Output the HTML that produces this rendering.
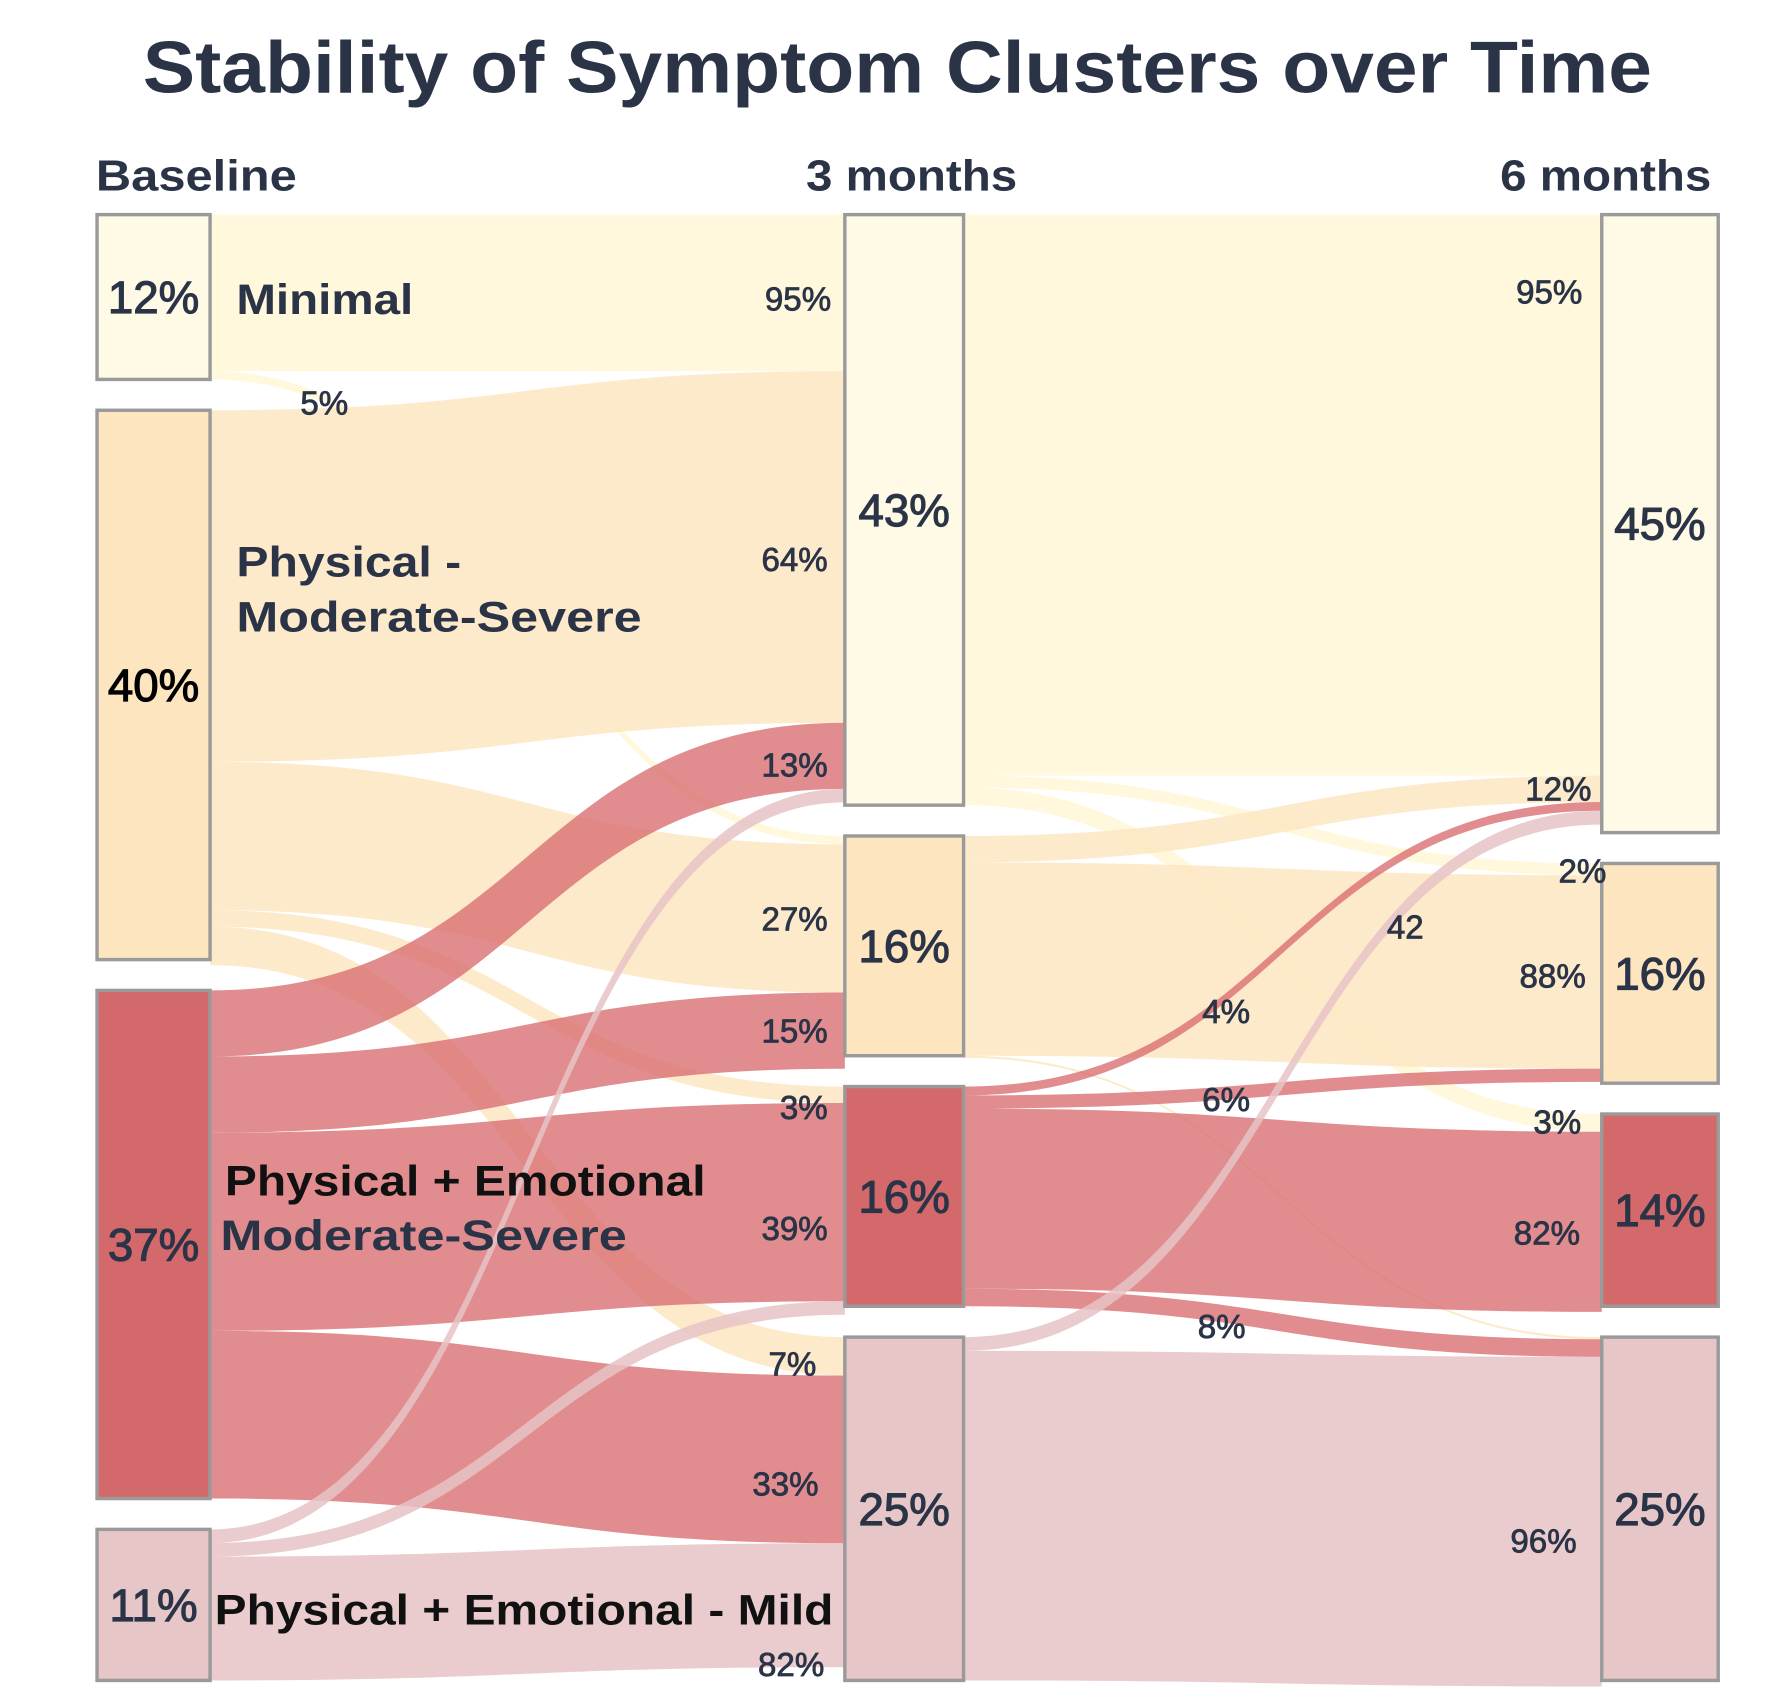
<!DOCTYPE html>
<html><head><meta charset="utf-8"><style>
html,body{margin:0;padding:0;background:#fff;}
svg{display:block;font-family:"Liberation Sans",sans-serif;}
</style></head><body>
<svg id="chart" width="1781" height="1701" viewBox="0 0 1560 1490" preserveAspectRatio="none" xmlns="http://www.w3.org/2000/svg">
<text x="125" y="81" textLength="1322" lengthAdjust="spacingAndGlyphs" font-size="64" font-weight="bold" fill="#2b3447">Stability of Symptom Clusters over Time</text>
<text x="84" y="167" textLength="176" lengthAdjust="spacingAndGlyphs" font-size="38" font-weight="bold" fill="#2b3447">Baseline</text>
<text x="706" y="167" textLength="185" lengthAdjust="spacingAndGlyphs" font-size="38" font-weight="bold" fill="#2b3447">3 months</text>
<text x="1314" y="167" textLength="185" lengthAdjust="spacingAndGlyphs" font-size="38" font-weight="bold" fill="#2b3447">6 months</text>
<g id="flows"></g>
<g id="nodes"></g>
<g id="labels"></g>
</svg>
<script>
const categories = ["Minimal","Physical - Moderate-Severe","Physical + Emotional Moderate-Severe","Physical + Emotional - Mild"];
const baselineValues = [12, 40, 37, 11];
const month3Values = [43, 16, 16, 25];
const month6Values = [45, 16, 14, 25];
// transitions [source, target, percent of source]
const flows1 = [[0,0,95],[0,1,5],[1,0,64],[1,1,27],[1,2,3],[1,3,7],[2,0,13],[2,1,15],[2,2,39],[2,3,33],[3,0,9],[3,2,9],[3,3,82]];
const flows2 = [[0,0,95],[0,1,2],[0,2,3],[1,0,12],[1,1,88],[1,3,1],[2,0,4],[2,1,6],[2,2,82],[2,3,8],[3,0,4],[3,3,96]];
const flowLabels1 = ["95%","5%","64%","27%","3%","7%","13%","15%","39%","33%","","","82%"];
const flowLabels2 = ["95%","2%","3%","12%","88%","","4%","6%","82%","8%","42","96%"];

const nodeFill = ["#fffae6","#fde5bf","#d4696b","#e7c6c8"];
const flowFill = ["#fff7d6","#fde6c2","#d96f72","#e6c3c6"];
const flowOp = [0.85,0.85,0.8,0.85];
const colX = [85, 740, 1403], nodeW = [99,104,102];
const top0 = 188, bottom0 = 1472, gap = 27;
const k = (bottom0 - top0 - 3*gap) / 100;
function yScale(v){ return v * k; }
function layout(vals){ let y = top0; return vals.map(v => { const n = {y0:y, y1:y+yScale(v)}; y = n.y1 + gap; return n; }); }
const cols = [layout(baselineValues), layout(month3Values), layout(month6Values)];
const NS = "http://www.w3.org/2000/svg";
const fg = document.getElementById('flows'), ng = document.getElementById('nodes'), lg = document.getElementById('labels');
function mk(tag, attrs, parent){ const e = document.createElementNS(NS, tag); for (const a in attrs) e.setAttribute(a, attrs[a]); parent.appendChild(e); return e; }

const labelPos1 = [[728,262],[305,353],[725,490],[725,805],[725,970],[715,1195],[725,670],[725,903],[725,1076],[717,1300],null,null,[722,1458]];
const labelPos2 = [[1386,256],[1407,763],[1385,983],[1394,691],[1389,855],null,[1095,886],[1095,963],[1384,1080],[1091,1162],[1247,812],[1381,1350]];

function drawFlows(stage, flows, srcVals, labels, lpos){
  const src = cols[stage], tgt = cols[stage+1];
  const x0 = colX[stage] + nodeW[stage], x1 = colX[stage+1];
  const sOff = src.map(n => n.y0), tOff = tgt.map(n => n.y0);
  const geo = [];
  flows.forEach((f,i) => { const w = yScale(srcVals[f[0]] * f[2] / 100);
    geo[i] = {sy: sOff[f[0]], w}; sOff[f[0]] += w; });
  flows.map((f,i)=>i).sort((a,b)=> flows[a][0]-flows[b][0]).forEach(i => { const f = flows[i];
    geo[i].ty = tOff[f[1]]; tOff[f[1]] += geo[i].w; });
  flows.forEach((f,i) => {
    const g = geo[i], xm = (x0 + x1) / 2;
    const d = `M${x0},${g.sy} C${xm},${g.sy} ${xm},${g.ty} ${x1},${g.ty} L${x1},${g.ty+g.w} C${xm},${g.ty+g.w} ${xm},${g.sy+g.w} ${x0},${g.sy+g.w} Z`;
    const p = mk('path', {d, fill: flowFill[f[0]], 'fill-opacity': flowOp[f[0]]}, fg);
    
    
    if (labels[i] && lpos[i]) {
      const t = mk('text', {x: lpos[i][0], y: lpos[i][1]+10, 'text-anchor':'end', 'font-size':29, fill:'#2b3447', stroke:'#2b3447', 'stroke-width':0.7}, lg);
      t.textContent = labels[i];
      
      
    }
  });
}
drawFlows(0, flows1, baselineValues, flowLabels1, labelPos1);
drawFlows(1, flows2, month3Values, flowLabels2, labelPos2);

const allVals = [baselineValues, month3Values, month6Values];
cols.forEach((col, c) => col.forEach((n, i) => {
  const r = mk('rect', {x: colX[c], y: n.y0, width: nodeW[c], height: n.y1 - n.y0, fill: nodeFill[i], stroke:'#9a9a9a', 'stroke-width':3}, ng);
  
  
  const col2 = (c===0&&i===1)?'#000':'#2b3447';
  const t = mk('text', {x: colX[c] + nodeW[c]/2, y: (n.y0+n.y1)/2 + 14, 'text-anchor':'middle', 'font-size':40, fill: col2, stroke: col2, 'stroke-width':1}, lg);
  t.textContent = allVals[c][i] + '%';
  
  
}));
const names = [
  ["Minimal",207,275,"#2b3447",155],["Physical -",207,505,"#2b3447",197],["Moderate-Severe",207,553,"#2b3447",355],
  ["Physical + Emotional",197,1047,"#111",421],["Moderate-Severe",193,1095,"#2b3447",356],["Physical + Emotional - Mild",188,1423,"#111",542]];
names.forEach(n => {
  const t = mk('text', {x:n[1], y:n[2], 'font-size':37, 'font-weight':'bold', fill:n[3], textLength:n[4], lengthAdjust:'spacingAndGlyphs'}, lg);
  t.textContent = n[0];
  
  
});
</script>
</body></html>
